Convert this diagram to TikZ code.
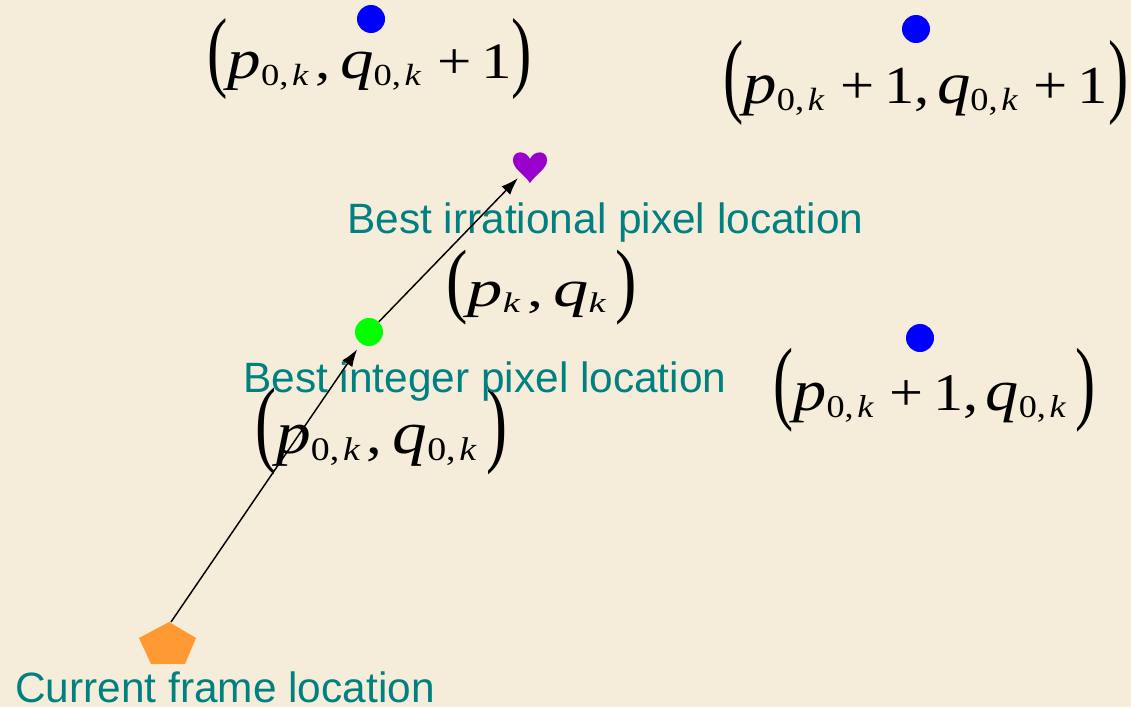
\documentclass[tikz,border=0pt]{standalone}
\usepackage{fontspec}
\usepackage{graphicx}
\setmainfont{Liberation Sans}
\newfontfamily\tnr{Liberation Serif}
\usetikzlibrary{arrows.meta}
\definecolor{bg}{HTML}{F5EDDA}
\definecolor{tealtxt}{HTML}{008080}
\definecolor{dotblue}{HTML}{0000FF}
\definecolor{dotgreen}{HTML}{00FF00}
\definecolor{heartc}{HTML}{9900CC}
\definecolor{pentc}{HTML}{FF9933}
\newcommand\VP{\scalebox{1.1}{\textit{p}}}
\newcommand\VQ{\scalebox{1.1}{\textit{q}}}
\newcommand\SB[1]{\raisebox{-0.13em}{\scalebox{0.6}{#1}}}
\newcommand\ZK{\SB{0,\hspace{0.1em}\textit{k}}}
\newcommand\KK{\SB{\textit{k}}}
\newcommand\LP{\raisebox{-0.03em}{\scalebox{1}[1.75]{(}}}
\newcommand\RP{\raisebox{-0.03em}{\scalebox{1}[1.75]{)}}}
\newcommand\CM{\hspace{0.1em},\hspace{0.16em}}
\newcommand\PO{\hspace{0.26em}+\hspace{0.16em}1}
\begin{document}
\begin{tikzpicture}[x=0.75pt,y=-0.75pt,
  lbl/.style={text=tealtxt, font=\fontsize{31.8}{36}\selectfont, anchor=base west, inner sep=0},
  eq/.style={anchor=north west, inner sep=0, font=\tnr\fontsize{44}{50}\selectfont},
  dot/.style={circle, inner sep=0, minimum size=21pt},
  arr/.style={draw=black, line width=1.1pt, -{Latex[length=13pt,width=9pt]}}]
\fill[bg] (0,0) rectangle (1131,707);
\useasboundingbox (0,0) rectangle (1131,707);
% blue grid points
\node[dot, fill=dotblue] (b1) at (371,19) {};
\node[dot, fill=dotblue] (b2) at (916,29) {};
\node[dot, fill=dotblue] (b3) at (920,338) {};
% equations
\node[eq] (e1) at (207,18) {\resizebox*{243.75pt}{60.75pt}{\LP\VP\ZK\CM\VQ\ZK\PO\RP}};
\node[eq] (e2) at (723,40) {\resizebox*{303.75pt}{63.75pt}{\LP\VP\ZK\PO,\hspace{0.12em}\VQ\ZK\PO\RP}};
\node[eq] (e3) at (773,348) {\resizebox*{241.5pt}{63pt}{\LP\VP\ZK\PO,\hspace{0.12em}\VQ\ZK\hspace{0.15em}\RP}};
\node[eq] (e4) at (446,250) {\resizebox*{143.25pt}{56.25pt}{\LP\VP\KK\CM\VQ\KK\hspace{0.15em}\RP}};
\node[eq] (e5) at (255,388) {\resizebox*{189pt}{65.25pt}{\LP\VP\ZK\CM\VQ\ZK\hspace{0.15em}\RP}};
% labels
\node[lbl] (l1) at (347,233) {Best irrational pixel location};
\node[lbl] (l2) at (243,392) {Best integer pixel location};
\node[lbl] (l3) at (15,702) {Current frame location};
% heart
\coordinate (heart) at (530,166);
\fill[heartc] (530,159) .. controls (526,150) and (513,150) .. (513,160)
  .. controls (513,169) and (524,174) .. (530,183)
  .. controls (536,174) and (547,169) .. (547,160)
  .. controls (547,150) and (534,150) .. (530,159) -- cycle;
\coordinate (hearttip) at (518,178);
% green point
\node[dot, fill=dotgreen] (green) at (369,332) {};
% pentagon
\fill[pentc] (169,622) -- (196,638) -- (185,664) -- (151,664) -- (139,638) -- cycle;
\coordinate (pentop) at (171,622);
% arrows
\draw[arr, shorten >=5pt] (pentop) -- (green);
\draw[arr] (green) -- (hearttip);
\end{tikzpicture}
\end{document}
